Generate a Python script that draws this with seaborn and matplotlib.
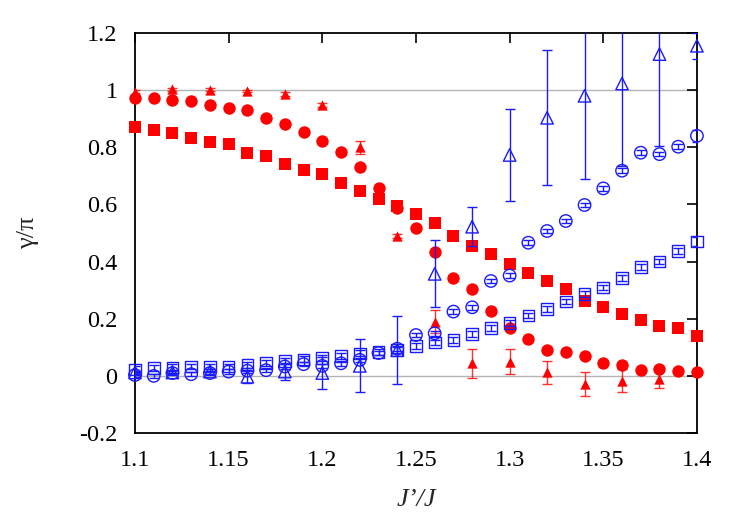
import numpy as np
import matplotlib
matplotlib.use("Agg")
import matplotlib.pyplot as plt
import seaborn as sns

# x grids
x_fine = [1.10, 1.11, 1.12, 1.13, 1.14, 1.15, 1.16, 1.17, 1.18, 1.19, 1.20,
          1.21, 1.22, 1.23, 1.24, 1.25, 1.26, 1.27, 1.28, 1.29, 1.30,
          1.31, 1.32, 1.33, 1.34, 1.35, 1.36, 1.37, 1.38, 1.39, 1.40]
x_red_tri = [1.10, 1.12, 1.14, 1.16, 1.18, 1.20, 1.22, 1.24,
             1.26, 1.28, 1.30, 1.32, 1.34, 1.36, 1.38]
x_blue_tri = [1.10, 1.12, 1.14, 1.16, 1.18, 1.20, 1.22, 1.24,
              1.26, 1.28, 1.30, 1.32, 1.34, 1.36, 1.38, 1.40]

# red (filled) series
red_sq = [0.872, 0.860, 0.849, 0.831, 0.820, 0.810, 0.781, 0.769, 0.741, 0.720, 0.705,
          0.674, 0.647, 0.618, 0.596, 0.565, 0.534, 0.490, 0.456, 0.428, 0.393,
          0.361, 0.332, 0.303, 0.263, 0.240, 0.216, 0.195, 0.175, 0.168, 0.140]
red_circ = [0.974, 0.974, 0.967, 0.961, 0.948, 0.936, 0.930, 0.904, 0.881, 0.855, 0.821,
            0.784, 0.730, 0.656, 0.588, 0.516, 0.435, 0.344, 0.304, 0.228, 0.168,
            0.130, 0.089, 0.082, 0.068, 0.044, 0.038, 0.021, 0.024, 0.017, 0.013]
red_tri = [0.994, 1.003, 1.002, 0.997, 0.986, 0.948, 0.800, 0.490,
           0.190, 0.044, 0.050, 0.012, -0.028, -0.017, -0.010]
red_tri_err = [0.005, 0.005, 0.005, 0.005, 0.006, 0.008, 0.023, 0.008,
               0.040, 0.050, 0.044, 0.041, 0.041, 0.041, 0.034]

# blue (open) series
blue_sq = [0.023, 0.027, 0.030, 0.033, 0.033, 0.033, 0.038, 0.045, 0.052, 0.058, 0.062,
           0.070, 0.079, 0.083, 0.091, 0.105, 0.117, 0.126, 0.147, 0.167, 0.184,
           0.211, 0.234, 0.260, 0.286, 0.309, 0.342, 0.380, 0.400, 0.438, 0.470]
blue_sq_err = [0.01] * 30 + [0.015]
blue_circ = [0.003, 0.000, 0.010, 0.006, 0.010, 0.015, 0.018, 0.020, 0.033, 0.041, 0.035,
             0.044, 0.056, 0.080, 0.095, 0.143, 0.149, 0.225, 0.240, 0.332, 0.351,
             0.466, 0.507, 0.542, 0.598, 0.656, 0.718, 0.781, 0.776, 0.802, 0.840]
blue_circ_err = [0.008] * 30 + [0.02]
blue_tri = [0.012, 0.012, 0.015, -0.003, 0.015, 0.010, 0.035, 0.090,
            0.357, 0.522, 0.773, 0.903, 0.980, 1.023, 1.126, 1.155]
blue_tri_err = [0.005, 0.005, 0.008, 0.022, 0.030, 0.055, 0.093, 0.118,
                0.117, 0.069, 0.160, 0.236, 0.290, 0.290, 0.320, 0.045]

y_ticks = [-0.2, 0, 0.2, 0.4, 0.6, 0.8, 1, 1.2]
x_ticks = [1.1, 1.15, 1.2, 1.25, 1.3, 1.35, 1.4]

sns.set_theme(style="white")
plt.rcParams['font.family'] = ['Liberation Serif', 'DejaVu Serif']
plt.rcParams['axes.unicode_minus'] = False

RED = '#ff0000'
BLUE = '#1a1aff'

fig = plt.figure(figsize=(7.47, 5.23), dpi=100)
ax = fig.add_axes([0.1807, 0.172, 0.7523, 0.765])

# reference lines
ax.axhline(0, color='#b4b4b4', lw=1, zorder=0)
ax.axhline(1, color='#b4b4b4', lw=1, zorder=0)

pts = dict(ax=ax, clip_on=False)

# red filled
sns.scatterplot(x=x_fine, y=red_sq, marker='s', s=70, color=RED, linewidth=0, zorder=3, **pts)
sns.scatterplot(x=x_fine, y=red_circ, marker='o', s=80, color=RED, linewidth=0, zorder=3, **pts)
ax.errorbar(x_red_tri, red_tri, yerr=red_tri_err, fmt='none', ecolor=RED, elinewidth=1,
            capsize=3.5, capthick=1, zorder=3, alpha=0.8)
sns.scatterplot(x=x_red_tri, y=red_tri, marker='^', s=55, color=RED, linewidth=0, zorder=3, **pts)

# blue open
ax.errorbar(x_fine, blue_sq, yerr=blue_sq_err, fmt='none', ecolor=BLUE, elinewidth=1,
            capsize=3.5, capthick=1, zorder=4)
sns.scatterplot(x=x_fine, y=blue_sq, marker='s', s=70, facecolor='none', edgecolor=BLUE,
                linewidth=1, zorder=4, **pts)
ax.errorbar(x_fine, blue_circ, yerr=blue_circ_err, fmt='none', ecolor=BLUE, elinewidth=1,
            capsize=3.5, capthick=1, zorder=4)
sns.scatterplot(x=x_fine, y=blue_circ, marker='o', s=80, facecolor='none', edgecolor=BLUE,
                linewidth=1, zorder=4, **pts)
ax.errorbar(x_blue_tri, blue_tri, yerr=blue_tri_err, fmt='none', ecolor=BLUE, elinewidth=1,
            capsize=3.5, capthick=1, zorder=4)
sns.scatterplot(x=x_blue_tri, y=blue_tri, marker='^', s=80, facecolor='none', edgecolor=BLUE,
                linewidth=1, zorder=4, **pts)

ax.set_xlim(1.1, 1.4)
ax.set_ylim(-0.2, 1.2)
ax.set_xticks(x_ticks)
ax.set_yticks(y_ticks)
ax.set_xticklabels([f"{t:g}" for t in x_ticks])
ax.set_yticklabels([f"{t:g}" for t in y_ticks])
ax.tick_params(direction='in', length=7, width=1.2, top=True, right=True,
               labelsize=17.5, colors='black')
ax.tick_params(axis='x', pad=12)
ax.tick_params(axis='y', pad=12.5)
for sp in ax.spines.values():
    sp.set_color('black')
    sp.set_linewidth(1.3)

ax.set_xlabel("J’/J", fontsize=19, fontstyle='italic')
ax.set_ylabel("γ/π", fontsize=19)
ax.xaxis.set_label_coords(0.5, -0.14)
ax.yaxis.set_label_coords(-0.17, 0.5)

fig.savefig("out.png", dpi=100)
